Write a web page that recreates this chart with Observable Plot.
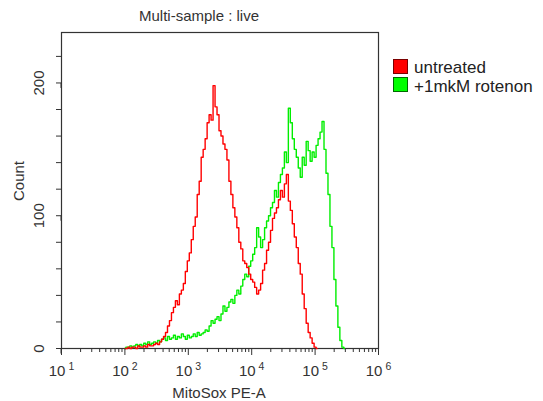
<!DOCTYPE html>
<html><head><meta charset="utf-8">
<script src="https://cdn.jsdelivr.net/npm/d3@7"></script>
<script src="https://cdn.jsdelivr.net/npm/@observablehq/plot@0.6"></script>
<style>
body{margin:0;background:#fff;font-family:"Liberation Sans",Arial,sans-serif;}
#wrap{position:relative;width:543px;height:401px;overflow:hidden;}
.t{position:absolute;color:#333;white-space:nowrap;line-height:1;}
.sw{position:absolute;width:15px;height:15px;box-sizing:border-box;}
</style></head><body>
<div id="wrap"></div>
<script>
// Histogram bins: log10 start and width (1/32 decade per bin)
const logBinStart = 2;
const logBinWidth = 1 / 32;
const seriesNames = ["untreated", "+1mkM rotenon"];
const seriesColors = ["#ff0000", "#00ee00"];
const swatchFills = ["#ff0000", "#00ff00"];
const swatchBorders = ["#7a0000", "#006a00"];
const untreated = [
  0,0,1,0,1, 1,0,2,1,1, 2,1,3,2,2, 3,4,3,5,7,
  9,12,17,21,27, 31,36,33,41,44, 49,58,66,72,82, 92,99,116,126,144,
  150,158,170,176,172, 198,182,176,164,160, 154,150,142,126,116, 106,99,91,80,75,
  66,64,61,56,52, 50,46,41,44,49, 59,64,74,80,89, 98,102,106,112,119,
  114,124,131,111,104, 94,84,76,64,56, 41,30,19,12,8, 4,1,0
];
const rotenon = [
  0,1,1,2,1, 2,3,2,3,2, 4,3,5,3,4, 5,4,6,5,7,
  8,6,9,7,8, 10,7,9,8,11, 9,7,10,8,9, 11,9,12,10,11,
  12,14,13,17,21, 19,22,24,21,26, 32,28,31,35,37, 34,40,44,41,47,
  52,56,54,62,66, 71,76,91,84,76, 82,91,96,100,106, 110,119,114,125,131,
  136,148,140,181,170, 158,150,144,136,129, 144,138,156,149,141, 148,144,153,158,163,
  171,150,132,116,92, 76,52,32,16,6, 1,0
];
const xMajorTicks = [1e1, 1e2, 1e3, 1e4, 1e5, 1e6];
const xMinorMultipliers = [2, 3, 4, 5, 6, 7, 8, 9];
const yMinorTicks = [0, 20, 40, 60, 80, 100, 120, 140, 160, 180, 200, 220];
const yLabelTicks = [0, 100, 200];

const toRows = (arr) => arr.map((c, i) => ({x: 10 ** (logBinStart + i * logBinWidth), y: c}));
const xMinorTicks = xMajorTicks.slice(0, -1).flatMap(d => xMinorMultipliers.map(m => m * d));

const chart = Plot.plot({
  width: 543, height: 401,
  marginLeft: 61, marginRight: 165, marginTop: 32, marginBottom: 53,
  style: {fontFamily: "'Liberation Sans', Arial, sans-serif", fontSize: "15px", color: "#333", background: "white"},
  x: {type: "log", domain: [10, 1e6], label: null},
  y: {domain: [0, 238], label: null},
  marks: [
    Plot.frame({stroke: "#333", strokeWidth: 1.2}),
    Plot.line(toRows(rotenon), {x: "x", y: "y", curve: "step", stroke: seriesColors[1], strokeWidth: 1.4}),
    Plot.line(toRows(untreated), {x: "x", y: "y", curve: "step", stroke: seriesColors[0], strokeWidth: 1.4}),
    Plot.axisX({ticks: xMinorTicks, tickSize: 4, tickFormat: () => "", stroke: "#333"}),
    Plot.axisX({ticks: xMajorTicks, tickSize: 7, tickPadding: 10, stroke: "#333", fontSize: 15,
      tickFormat: d => "10^" + Math.round(Math.log10(d))}),
    Plot.axisY({ticks: yMinorTicks, tickSize: 5, tickFormat: () => "", stroke: "#333"}),
    Plot.axisY({ticks: yLabelTicks, tickSize: 5, tickPadding: 17, rotate: -90, textAnchor: "middle", stroke: "#333", fontSize: 15})
  ]
});
// turn "10^n" tick labels into 10 with a raised exponent
chart.querySelectorAll("text").forEach(t => {
  const s = t.textContent;
  if (/^10\^\d$/.test(s)) {
    const exp = s.split("^")[1];
    t.textContent = "10";
    const ts = document.createElementNS("http://www.w3.org/2000/svg", "tspan");
    ts.setAttribute("dx", "3");
    ts.setAttribute("dy", "-6");
    ts.setAttribute("font-size", "10.5");
    ts.textContent = exp;
    t.appendChild(ts);
  }
});
const wrap = document.getElementById("wrap");
chart.style.position = "absolute"; chart.style.left = "0"; chart.style.top = "0";
wrap.appendChild(chart);

function addText(txt, css) {
  const d = document.createElement("div");
  d.className = "t"; d.textContent = txt;
  Object.assign(d.style, css);
  wrap.appendChild(d);
}
addText("Multi-sample : live", {left: "199px", top: "15px", fontSize: "15px", transform: "translate(-50%,-50%)"});
addText("MitoSox PE-A", {left: "219px", top: "392px", fontSize: "15px", transform: "translate(-50%,-50%)"});
addText("Count", {left: "18px", top: "181px", fontSize: "15px", transform: "translate(-50%,-50%) rotate(-90deg)"});
// legend
seriesNames.forEach((n, i) => {
  const s = document.createElement("div");
  s.className = "sw";
  Object.assign(s.style, {left: "393px", top: (59 + i * 18) + "px", background: swatchFills[i], border: "1px solid " + swatchBorders[i]});
  wrap.appendChild(s);
  addText(n, {left: "414px", top: (59 + i * 18.5) + "px", fontSize: "17px", lineHeight: "17px", color: "#222"});
});
</script>
</body></html>
